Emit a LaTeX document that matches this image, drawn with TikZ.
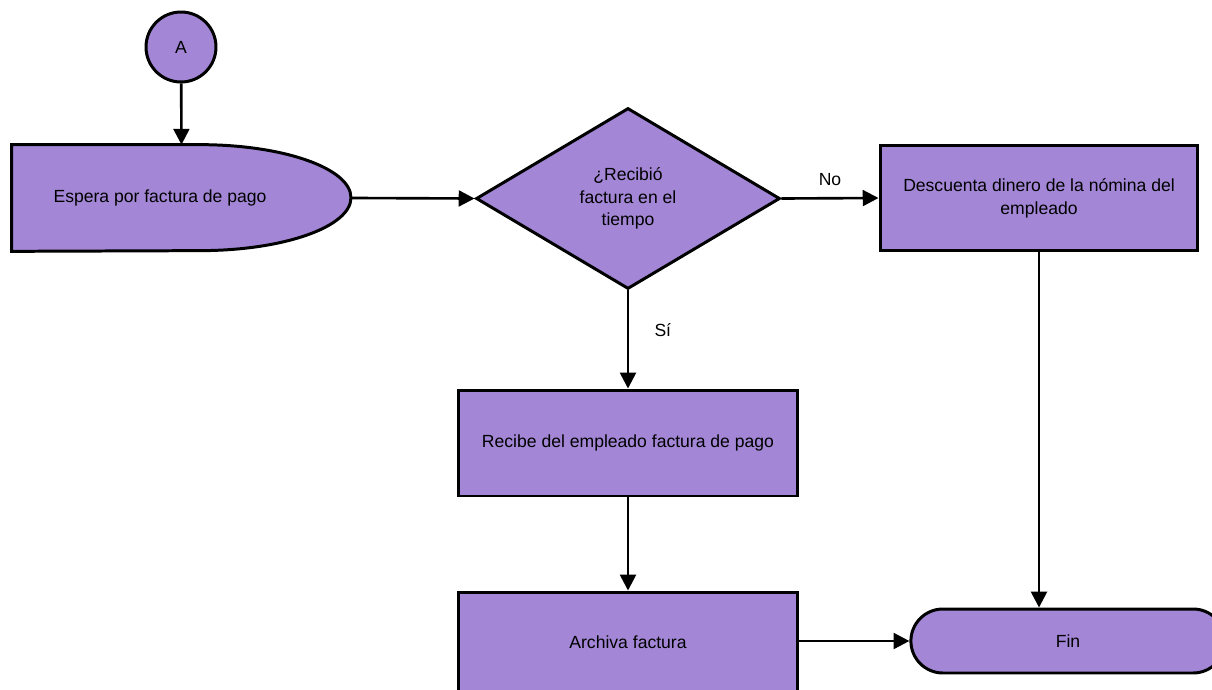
\documentclass[tikz,border=0pt]{standalone}
\usepackage{fontspec}
\setmainfont{Liberation Sans}
\usetikzlibrary{shapes.geometric,shapes.misc,arrows.meta}
\definecolor{lila}{RGB}{163,135,214}
\begin{document}
\begin{tikzpicture}[x=0.02cm, y=-0.02cm,
  every node/.style={font=\fontsize{10}{13}\selectfont},
  shp/.style={draw, line width=1.7pt, fill=lila},
  box/.style={shp, rectangle, minimum width=6.8cm, minimum height=2.12cm, align=center},
  conn/.style={shp, circle, minimum size=1.4cm, inner sep=0pt},
  dec/.style={shp, diamond, minimum width=6.08cm, minimum height=3.62cm, inner sep=0pt, align=center},
  term/.style={shp, rounded rectangle, minimum width=6.52cm, minimum height=1.28cm},
  arr/.style={line width=1.5pt, -{Triangle[length=9pt,width=9pt]}}]
\clip (0,0) rectangle (1212,689);
\node[conn] (A) at (181,47) {A};
% delay shape drawn by hand round an empty node
\node[minimum width=6.78cm, minimum height=2.12cm, inner sep=0pt] (E) at (181.5,198) {};
\draw[shp] (E.south west) -- (E.north west) -- ([xshift=0.37cm]E.north)
  arc[start angle=90, end angle=-90, x radius=3.02cm, y radius=1.06cm] -- cycle;
\node (Etxt) at (160,198) {Espera por factura de pago};
\node[dec] (D) at (628,198.5) {¿Recibió\\factura en el\\tiempo};
\node[box, minimum width=6.36cm] (N) at (1039,198) {Descuenta dinero de la nómina del\\empleado};
\node[box] (R) at (628,443) {Recibe del empleado factura de pago};
\node[box, minimum height=2.0cm] (F) at (628,642) {Archiva factura};
\node[term] (Fin) at (1068,641) {Fin};
\draw[arr] (A) -- (E.north);
\draw[arr] (E.east) -- (D.west);
\draw[arr] (D.east) -- node[above=3pt] {No} (N.west);
\draw[arr] (D.south) -- node[pos=0.4, right=11pt] {Sí} (R.north);
\draw[arr] (R) -- (F);
\draw[arr] (F.east |- Fin.west) -- (Fin.west);
\draw[arr] (N.south) -- (N.south |- Fin.north);
\end{tikzpicture}
\end{document}
